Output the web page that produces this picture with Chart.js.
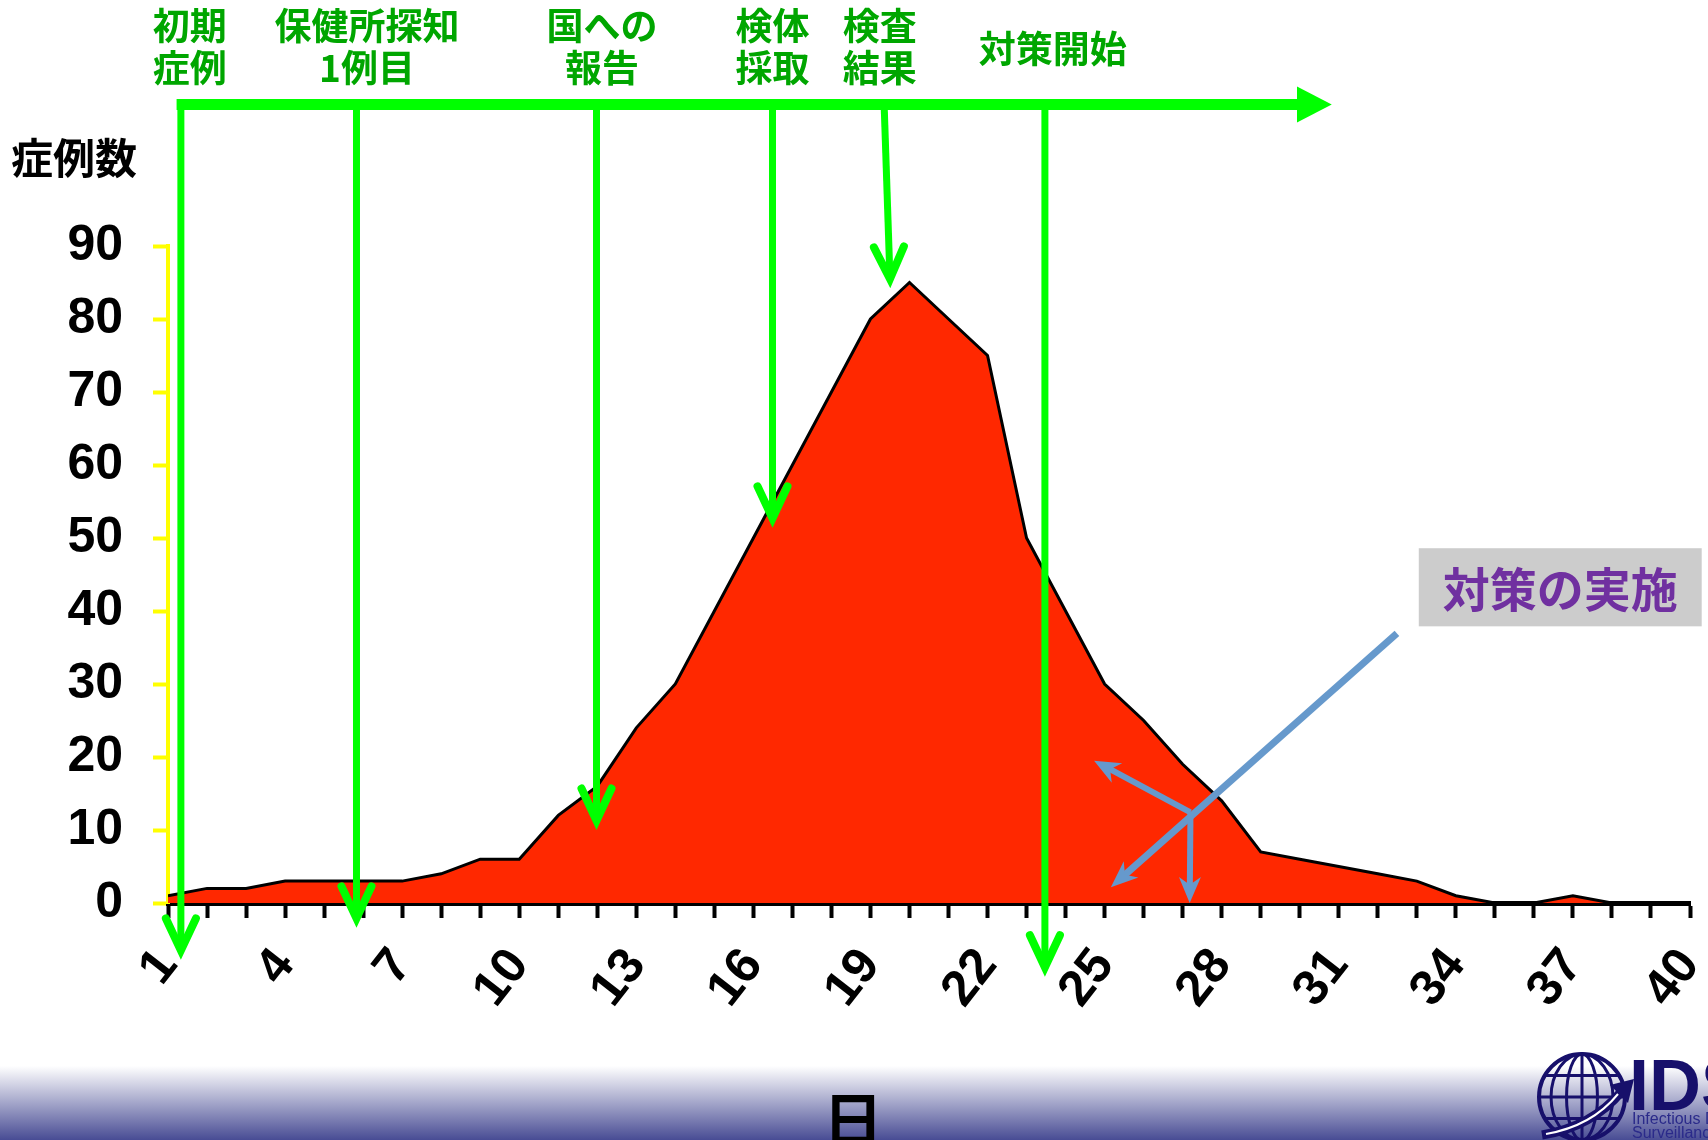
<!DOCTYPE html>
<html>
<head>
<meta charset="utf-8">
<script src="https://cdn.jsdelivr.net/npm/chart.js@4.4.1/dist/chart.umd.min.js"></script>
<style>
  html, body { margin: 0; padding: 0; background: #ffffff; overflow: hidden; }
  #wrap { width: 1708px; height: 1140px; position: relative; }
  canvas { display: block; }
</style>
</head>
<body>
<div id="wrap"><canvas id="chart" width="1708" height="1140"></canvas></div>
<script>
// Daily case counts (epidemic curve)
const days = [1, 2, 3, 4, 5, 6, 7, 8, 9, 10, 11, 12, 13, 14, 15, 16, 17, 18, 19, 20,
              21, 22, 23, 24, 25, 26, 27, 28, 29, 30, 31, 32, 33, 34, 35, 36, 37, 38, 39, 40];
const cases = [1, 2, 2, 3, 3, 3, 3, 4, 6, 6, 12, 16, 24, 30, 40, 50, 60, 70, 80, 85,
               80, 75, 50, 40, 30, 25, 19, 14, 7, 6, 5, 4, 3, 1, 0, 0, 1, 0, 0, 0];
const xTickLabels = ['1', '4', '7', '10', '13', '16', '19', '22', '25', '28', '31', '34', '37', '40'];
const yTickValues = [0, 10, 20, 30, 40, 50, 60, 70, 80, 90];

// Timeline milestones
const milestoneNames = [['初期', '症例'], ['保健所探知', '1例目'], ['国への', '報告'],
                        ['検体', '採取'], ['検査', '結果'], ['対策開始']];
const yTitle = '症例数';
const xTitle = '日';
const calloutText = '対策の実施';

const CJK = '"Noto Sans CJK JP", "Noto Sans CJK SC", sans-serif';
const LATIN = '"Liberation Sans", Arial, "Noto Sans CJK JP", sans-serif';
const GREEN = '#00FF00';
const GREEN_TEXT = '#00A600';
const BLUE = '#6699CC';

// Annotation geometry, in axis units (day, cases)
const timeline = { level: 109.4, start: 1.22, headBase: 29.93, tip: 30.82 };
const milestoneArrows = [
  { from: [1.33, 109.4],  to: [1.33, -6.5] },
  { from: [5.83, 109.4],  to: [5.83, -2.1] },
  { from: [11.98, 109.4], to: [11.98, 11.3] },
  { from: [16.49, 109.4], to: [16.49, 52.7] },
  { from: [19.35, 109.4], to: [19.5, 85.5] },
  { from: [23.47, 109.4], to: [23.47, -8.8] }
];
const milestoneLabelX = [1.56, 6.1, 12.12, 16.49, 19.24, 23.67];
const labelRows = [120.1, 114.4];
const singleRow = 117.0;

const callout = {
  box: [33.05, 48.6, 40.3, 37.9],
  lineFrom: [32.49, 36.95],
  lineTip: [25.16, 2.15],
  branch: [27.2, 12.4],
  upTip: [24.73, 19.5],
  downTip: [27.18, 0]
};

function P(chart, d, v) {
  return { x: chart.scales.x.getPixelForValue(d), y: chart.scales.y.getPixelForValue(v) };
}

function chevron(ctx, from, tip) {
  const dx = tip.x - from.x, dy = tip.y - from.y;
  const len = Math.hypot(dx, dy);
  const ux = dx / len, uy = dy / len;
  const px = -uy, py = ux;
  const back = 32, half = 15;
  ctx.beginPath();
  ctx.moveTo(tip.x - ux * back + px * half, tip.y - uy * back + py * half);
  ctx.lineTo(tip.x, tip.y);
  ctx.lineTo(tip.x - ux * back - px * half, tip.y - uy * back - py * half);
  ctx.stroke();
}

function stealthHead(ctx, from, tip, L, W) {
  const dx = tip.x - from.x, dy = tip.y - from.y;
  const len = Math.hypot(dx, dy);
  const ux = dx / len, uy = dy / len;
  const px = -uy, py = ux;
  ctx.beginPath();
  ctx.moveTo(tip.x, tip.y);
  ctx.lineTo(tip.x - ux * L + px * W, tip.y - uy * L + py * W);
  ctx.lineTo(tip.x - ux * L * 0.7, tip.y - uy * L * 0.7);
  ctx.lineTo(tip.x - ux * L - px * W, tip.y - uy * L - py * W);
  ctx.closePath();
  ctx.fill();
}

function shaftTo(ctx, from, tip, trim) {
  const dx = tip.x - from.x, dy = tip.y - from.y;
  const len = Math.hypot(dx, dy);
  ctx.beginPath();
  ctx.moveTo(from.x, from.y);
  ctx.lineTo(tip.x - dx / len * trim, tip.y - dy / len * trim);
  ctx.stroke();
}

function drawLogo(ctx) {
  const navy = '#17106B';
  const cx = 1582, cy = 1097, r = 43;
  ctx.save();
  ctx.strokeStyle = navy;
  ctx.lineWidth = 4;
  ctx.beginPath(); ctx.arc(cx, cy, r, 0, Math.PI * 2); ctx.stroke();
  ctx.lineWidth = 3;
  ctx.beginPath(); ctx.ellipse(cx, cy, r * 0.36, r, 0, 0, Math.PI * 2); ctx.stroke();
  ctx.beginPath(); ctx.ellipse(cx, cy, r * 0.72, r, 0, 0, Math.PI * 2); ctx.stroke();
  ctx.beginPath(); ctx.moveTo(cx, cy - r); ctx.lineTo(cx, cy + r); ctx.stroke();
  [-0.5, 0, 0.5].forEach(f => {
    const yy = cy + f * r;
    const hw = Math.sqrt(r * r - (f * r) * (f * r));
    ctx.beginPath(); ctx.moveTo(cx - hw, yy); ctx.lineTo(cx + hw, yy); ctx.stroke();
  });
  // swoosh arrow across the globe
  ctx.lineWidth = 9;
  ctx.beginPath();
  ctx.moveTo(cx - 40, cy + 38);
  ctx.quadraticCurveTo(cx + 10, cy + 30, cx + 40, cy - 6);
  ctx.stroke();
  ctx.strokeStyle = '#ffffff';
  ctx.lineWidth = 2;
  ctx.beginPath();
  ctx.moveTo(cx - 36, cy + 37);
  ctx.quadraticCurveTo(cx + 10, cy + 29, cx + 36, cy - 3);
  ctx.stroke();
  ctx.fillStyle = navy;
  ctx.beginPath();
  ctx.moveTo(cx + 52, cy - 18);
  ctx.lineTo(cx + 28, cy - 12);
  ctx.lineTo(cx + 46, cy + 6);
  ctx.closePath();
  ctx.fill();
  ctx.font = 'bold 72px ' + LATIN;
  ctx.textAlign = 'left';
  ctx.textBaseline = 'alphabetic';
  ctx.fillText('IDS', 1629, 1110);
  ctx.fillStyle = '#2a2a8a';
  ctx.font = '16px ' + LATIN;
  ctx.fillText('Infectious Disease', 1632, 1124);
  ctx.fillText('Surveillance Center', 1632, 1138);
  ctx.restore();
}

const decorPlugin = {
  id: 'decor',
  beforeDraw(chart) {
    const ctx = chart.ctx;
    ctx.save();
    ctx.fillStyle = '#ffffff';
    ctx.fillRect(0, 0, chart.width, chart.height);
    const g = ctx.createLinearGradient(0, 1066, 0, 1140);
    g.addColorStop(0, 'rgba(255,255,255,1)');
    g.addColorStop(1, 'rgb(72,76,148)');
    ctx.fillStyle = g;
    ctx.fillRect(0, 1066, chart.width, 1140 - 1066);
    ctx.restore();
  },
  afterDraw(chart) {
    const ctx = chart.ctx;
    ctx.save();

    // axis titles
    ctx.fillStyle = '#000000';
    ctx.textAlign = 'center';
    ctx.textBaseline = 'middle';
    ctx.font = 'bold 42px ' + CJK;
    ctx.fillText(yTitle, 74, 158);
    ctx.font = 'bold 60px ' + CJK;
    ctx.fillText(xTitle, 853, 1120);

    // timeline bar with arrow
    ctx.strokeStyle = GREEN;
    ctx.fillStyle = GREEN;
    ctx.lineCap = 'butt';
    const a = P(chart, timeline.start, timeline.level);
    const hb = P(chart, timeline.headBase, timeline.level);
    const tp = P(chart, timeline.tip, timeline.level);
    ctx.lineWidth = 11;
    ctx.beginPath(); ctx.moveTo(a.x, a.y); ctx.lineTo(hb.x + 1, hb.y); ctx.stroke();
    ctx.beginPath();
    ctx.moveTo(tp.x, tp.y);
    ctx.lineTo(hb.x, hb.y - 18);
    ctx.lineTo(hb.x, hb.y + 18);
    ctx.closePath();
    ctx.fill();

    // milestone arrows
    milestoneArrows.forEach(m => {
      const f = P(chart, m.from[0], m.from[1]);
      const t = P(chart, m.to[0], m.to[1]);
      ctx.lineWidth = 7;
      ctx.lineCap = 'butt';
      shaftTo(ctx, f, t, 4);
      ctx.lineWidth = 8;
      ctx.lineCap = 'round';
      ctx.lineJoin = 'miter';
      chevron(ctx, f, t);
    });

    // milestone labels
    ctx.fillStyle = GREEN_TEXT;
    ctx.font = 'bold 37px ' + CJK;
    ctx.textAlign = 'center';
    ctx.textBaseline = 'middle';
    milestoneNames.forEach((lines, i) => {
      const rows = lines.length === 1 ? [singleRow] : labelRows;
      lines.forEach((txt, j) => {
        const p = P(chart, milestoneLabelX[i], rows[j]);
        ctx.fillText(txt, p.x, p.y);
      });
    });

    // callout box
    const b0 = P(chart, callout.box[0], callout.box[1]);
    const b1 = P(chart, callout.box[2], callout.box[3]);
    ctx.fillStyle = '#CCCCCC';
    ctx.fillRect(b0.x, b0.y, b1.x - b0.x, b1.y - b0.y);
    ctx.fillStyle = '#7030A0';
    ctx.font = 'bold 47px ' + CJK;
    ctx.fillText(calloutText, (b0.x + b1.x) / 2, (b0.y + b1.y) / 2 + 2);

    // callout pointers
    ctx.strokeStyle = BLUE;
    ctx.fillStyle = BLUE;
    ctx.lineWidth = 7;
    ctx.lineCap = 'butt';
    const lf = P(chart, callout.lineFrom[0], callout.lineFrom[1]);
    const lt = P(chart, callout.lineTip[0], callout.lineTip[1]);
    const br = P(chart, callout.branch[0], callout.branch[1]);
    const ut = P(chart, callout.upTip[0], callout.upTip[1]);
    const dt = P(chart, callout.downTip[0], callout.downTip[1]);
    shaftTo(ctx, lf, lt, 18);
    stealthHead(ctx, lf, lt, 27, 11);
    ctx.lineWidth = 6;
    shaftTo(ctx, br, ut, 18);
    stealthHead(ctx, br, ut, 26, 11);
    shaftTo(ctx, br, dt, 18);
    stealthHead(ctx, br, dt, 26, 11);

    drawLogo(ctx);
    ctx.restore();
  }
};

const ctx = document.getElementById('chart').getContext('2d');
new Chart(ctx, {
  type: 'line',
  data: {
    datasets: [{
      label: '症例数',
      data: days.map((d, i) => ({ x: d, y: cases[i] })),
      fill: 'origin',
      backgroundColor: '#FF2800',
      borderColor: '#000000',
      borderWidth: 3,
      pointRadius: 0,
      tension: 0
    }]
  },
  options: {
    responsive: false,
    animation: false,
    devicePixelRatio: 1,
    layout: { padding: { left: 0, right: 18, top: 246, bottom: 0 } },
    plugins: { legend: { display: false }, tooltip: { enabled: false } },
    scales: {
      x: {
        type: 'linear',
        min: days[0],
        max: days[days.length - 1],
        z: 1,
        afterBuildTicks: (scale) => { scale.ticks = days.map(d => ({ value: d })); },
        afterFit: (scale) => { scale.height = 237; scale.paddingLeft = 0; scale.paddingRight = 0; },
        ticks: {
          autoSkip: false,
          minRotation: 52,
          maxRotation: 52,
          padding: 20,
          color: '#000000',
          font: { family: LATIN, size: 50, weight: 'bold' },
          callback: (v) => xTickLabels.includes(String(v)) ? String(v) : ''
        },
        grid: { display: true, drawOnChartArea: false, drawTicks: true, tickLength: 15, tickWidth: 4, tickColor: '#000000' },
        border: { display: true, color: '#000000', width: 5 }
      },
      y: {
        min: 0,
        max: 90,
        z: 1,
        afterBuildTicks: (scale) => { scale.ticks = yTickValues.map(v => ({ value: v })); },
        afterFit: (scale) => { scale.width = 168; scale.paddingTop = 0; scale.paddingBottom = 0; },
        ticks: {
          padding: 30,
          color: '#000000',
          font: { family: LATIN, size: 50, weight: 'bold' }
        },
        grid: { display: true, drawOnChartArea: false, drawTicks: true, tickLength: 15, tickWidth: 4, tickColor: '#FFFF00' },
        border: { display: true, color: '#FFFF00', width: 4 }
      }
    }
  },
  plugins: [decorPlugin]
});
</script>
</body>
</html>
